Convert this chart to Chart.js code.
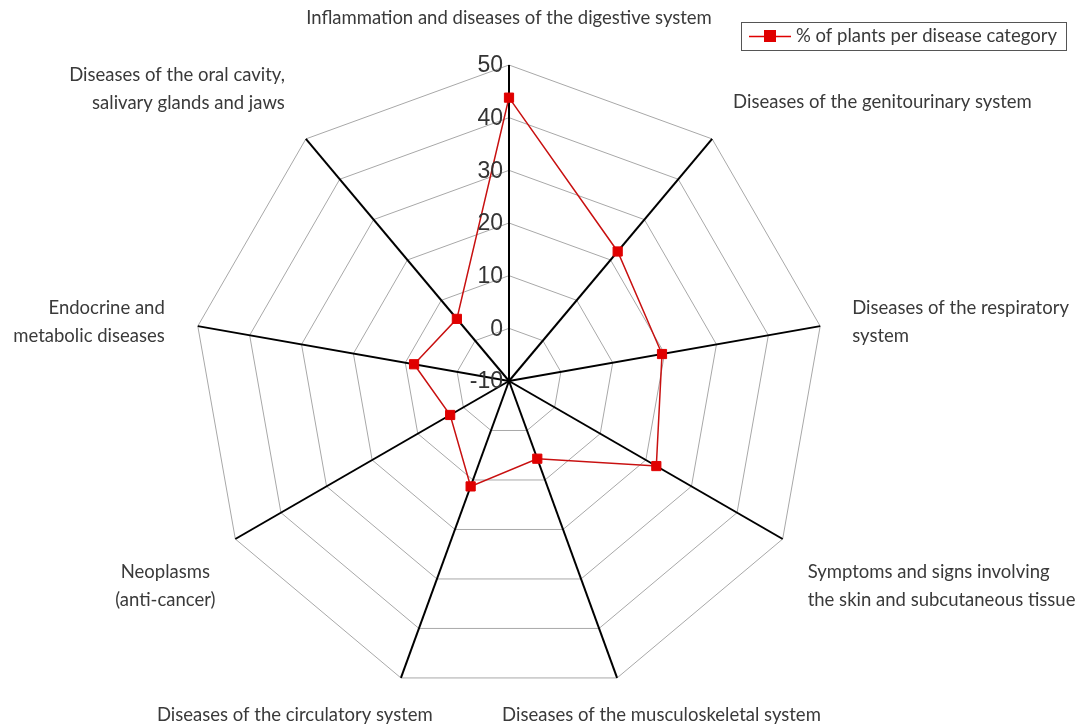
<!DOCTYPE html>
<html>
<head>
    <title>Plants per disease category</title>
    <script src="https://cdn.jsdelivr.net/npm/chart.js"></script>
    <style>
        html, body { margin: 0; padding: 0; background: #fff; }
        #wrap { width: 1082px; height: 725px; position: relative; }
    </style>
</head>
<body>
    <div id="wrap">
        <canvas id="radarChart" width="1082" height="725"></canvas>
    </div>

    <script>
        // categories, one per spoke (clockwise from the top)
        var categories = [
            ['Inflammation and diseases of the digestive system'],
            ['Diseases of the genitourinary system'],
            ['Diseases of the respiratory', 'system'],
            ['Symptoms and signs involving', 'the skin and subcutaneous tissue'],
            ['Diseases of the musculoskeletal system'],
            ['Diseases of the circulatory system'],
            ['Neoplasms', '(anti-cancer)'],
            ['Endocrine and', 'metabolic diseases'],
            ['Diseases of the oral cavity,', 'salivary glands and jaws']
        ];
        var seriesName = '% of plants per disease category';
        var plantShare = [43.8, 22.1, 19.5, 22.3, 5.7, 11.3, 2.9, 8.3, 5.4];
        var tickValues = [-10, 0, 10, 20, 30, 40, 50];

        // where each category label sits relative to its spoke tip
        var labelPlacement = [
            { dx: 0, dy: -47, align: 'center' },
            { dx: 21, dy: -37, align: 'left' },
            { dx: 32, dy: -18, align: 'left' },
            { dx: 25, dy: 33, align: 'left' },
            { dx: -115, dy: 37, align: 'left' },
            { dx: -244, dy: 37, align: 'left' },
            { dx: -70, dy: 33, align: 'center' },
            { dx: -33, dy: -18, align: 'right' },
            { dx: -21, dy: -64, align: 'right' }
        ];

        var labelFont = '18.5px Lato, "Open Sans", sans-serif';
        var lineHeight = 28;
        var red = '#e00000';

        var radarDecor = {
            id: 'radarDecor',
            afterDraw: function (chart) {
                var ctx = chart.ctx;
                var scale = chart.scales.r;

                // category labels
                ctx.save();
                ctx.font = labelFont;
                ctx.fillStyle = '#3a3a3a';
                ctx.textBaseline = 'middle';
                categories.forEach(function (lines, i) {
                    var tip = scale.getPointPosition(i, scale.drawingArea);
                    var p = labelPlacement[i];
                    ctx.textAlign = p.align;
                    lines.forEach(function (line, k) {
                        ctx.fillText(line, tip.x + p.dx, tip.y + p.dy + k * lineHeight);
                    });
                });
                ctx.restore();

                // value ticks, right aligned against the top spoke
                ctx.save();
                ctx.font = '23px "Liberation Sans", Arial, sans-serif';
                ctx.fillStyle = '#333';
                ctx.textAlign = 'right';
                ctx.textBaseline = 'middle';
                scale.ticks.forEach(function (t) {
                    var d = scale.getDistanceFromCenterForValue(t.value);
                    ctx.fillText(String(t.value), scale.xCenter - 6, scale.yCenter - d + 1);
                });
                ctx.restore();

                // legend box
                ctx.save();
                ctx.strokeStyle = '#555';
                ctx.lineWidth = 1;
                ctx.strokeRect(741.5, 22.5, 325, 28);
                ctx.strokeStyle = red;
                ctx.lineWidth = 1.5;
                ctx.beginPath();
                ctx.moveTo(749, 36.5);
                ctx.lineTo(791, 36.5);
                ctx.stroke();
                ctx.fillStyle = red;
                ctx.fillRect(764, 30, 12, 12);
                ctx.font = labelFont;
                ctx.fillStyle = '#3a3a3a';
                ctx.textAlign = 'left';
                ctx.textBaseline = 'middle';
                ctx.fillText(seriesName, 796, 36);
                ctx.restore();
            }
        };

        var radarChart = new Chart(document.getElementById('radarChart'), {
            type: 'radar',
            data: {
                labels: categories,
                datasets: [{
                    label: seriesName,
                    data: plantShare,
                    borderColor: '#c81010',
                    borderWidth: 1.5,
                    backgroundColor: 'transparent',
                    fill: false,
                    pointStyle: 'rect',
                    pointRadius: 6.5,
                    pointBackgroundColor: red,
                    pointBorderColor: red,
                    pointBorderWidth: 1
                }]
            },
            options: {
                responsive: false,
                animation: false,
                layout: { padding: { top: 65, bottom: 28, left: 0, right: 64 } },
                plugins: {
                    legend: { display: false },
                    tooltip: { enabled: false }
                },
                scales: {
                    r: {
                        min: tickValues[0],
                        max: tickValues[tickValues.length - 1],
                        afterBuildTicks: function (axis) {
                            axis.ticks = tickValues.map(function (v) { return { value: v }; });
                        },
                        ticks: { display: false },
                        pointLabels: { display: false },
                        grid: { color: '#a8a8a8', lineWidth: 1 },
                        angleLines: { color: '#000', lineWidth: 2 }
                    }
                }
            },
            plugins: [radarDecor]
        });
    </script>
</body>
</html>
